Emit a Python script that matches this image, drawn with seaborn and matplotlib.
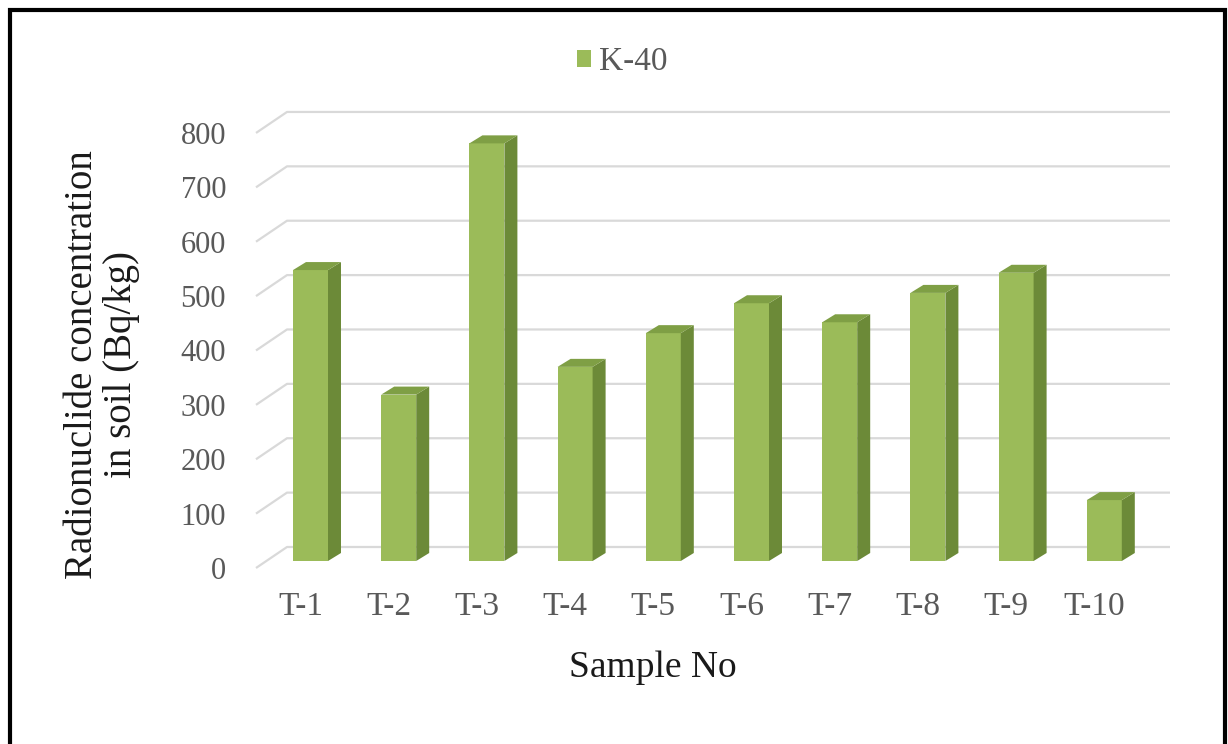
import numpy as np
import pandas as pd
import seaborn as sns
import matplotlib.pyplot as plt
from matplotlib.patches import Polygon, Patch
from matplotlib.lines import Line2D

# K-40 activity per soil sample (Bq/kg)
samples = ["T-1", "T-2", "T-3", "T-4", "T-5", "T-6", "T-7", "T-8", "T-9", "T-10"]
k40 = [535, 306, 768, 357, 419, 474, 439, 493, 530, 112]
y_ticks = [0, 100, 200, 300, 400, 500, 600, 700, 800]

FRONT = "#9bbb59"
SIDE = "#6c8a38"
TOP = "#7f9f45"
GRID = "#d9d9d9"
TICK_COLOR = "#595959"
TITLE_COLOR = "#1a1a1a"

sns.set_theme(style="white")
plt.rcParams["font.family"] = ["Liberation Serif", "DejaVu Serif"]

W, H = 1228, 744
fig = plt.figure(figsize=(W / 100, H / 100), dpi=100)
fig.patch.set_facecolor("white")

# axes box in pixels: left 240, right 1180, top 100, bottom 580
ax = fig.add_axes([240 / W, (H - 580) / H, 940 / W, 480 / H])
ax.set_facecolor("none")

# pixel scale of the bar plane
X0, DX = 310.5, 88.2      # centre of first bar, spacing between bars
Y0, SY = 561.0, 0.5438    # baseline pixel row, pixels per Bq/kg

df = pd.DataFrame({"Sample": samples, "K-40": k40})
sns.barplot(data=df, x="Sample", y="K-40", color=FRONT, saturation=1,
            width=35 / DX, edgecolor="none", linewidth=0, ax=ax, zorder=3)

ax.set_xlim((240 - X0) / DX, (1180 - X0) / DX)
ax.set_ylim((Y0 - 580) / SY, (Y0 - 100) / SY)

# extruded faces for a 3-D column look
ddx, ddy = 13 / DX, 8 / SY
for p in list(ax.patches):
    x0, w, h = p.get_x(), p.get_width(), p.get_height()
    side = [(x0 + w, 0), (x0 + w + ddx, ddy), (x0 + w + ddx, h + ddy), (x0 + w, h)]
    top = [(x0, h), (x0 + ddx, h + ddy), (x0 + w + ddx, h + ddy), (x0 + w, h)]
    ax.add_patch(Polygon(side, closed=True, facecolor=SIDE, edgecolor="none", zorder=3))
    ax.add_patch(Polygon(top, closed=True, facecolor=TOP, edgecolor="none", zorder=3))

# gridlines on floor edge and back wall
xf, xb, xe = (256 - X0) / DX, (287 - X0) / DX, (1170 - X0) / DX
front_off, back_off = -7 / SY, 14 / SY
for v in y_ticks:
    ax.plot([xf, xb, xe], [v + front_off, v + back_off, v + back_off],
            color=GRID, lw=1.6, zorder=1, solid_capstyle="butt")

ax.set_yticks([v + front_off for v in y_ticks], labels=[str(v) for v in y_ticks])
ax.set_xticks([i - 10 / DX for i in range(len(samples))], labels=samples)
ax.tick_params(axis="both", length=0, colors=TICK_COLOR)
ax.tick_params(axis="y", labelsize=22, pad=10)
ax.tick_params(axis="x", labelsize=24, pad=8)
ax.grid(False)
sns.despine(ax=ax, left=True, bottom=True)

ax.set_xlabel("Sample No", fontsize=27, color=TITLE_COLOR)
ax.xaxis.set_label_coords((653 - 240) / 940, (580 - 677) / 480)
ax.xaxis.label.set_va("baseline")

ax.set_ylabel("Radionuclide concentration\nin soil (Bq/kg)", fontsize=28,
              color=TITLE_COLOR, linespacing=1.05)
ax.yaxis.set_label_coords((102 - 240) / 940, (580 - 365) / 480)
ax.yaxis.label.set_va("center")

fig.legend(handles=[Patch(facecolor=FRONT, edgecolor="none", label="K-40")],
           loc="center", bbox_to_anchor=(622 / W, 1 - 62 / H), frameon=False,
           fontsize=24, handlelength=0.42, handleheight=0.42, handletextpad=0.25,
           labelcolor=TICK_COLOR, borderpad=0)

# outer frame (open at the bottom)
fig.add_artist(Line2D([10 / W, 10 / W, 1225 / W, 1225 / W],
                      [0, 1 - 9.5 / H, 1 - 9.5 / H, 0],
                      transform=fig.transFigure, color="black", lw=3,
                      solid_joinstyle="miter"))

fig.savefig("out.png", dpi=100)
